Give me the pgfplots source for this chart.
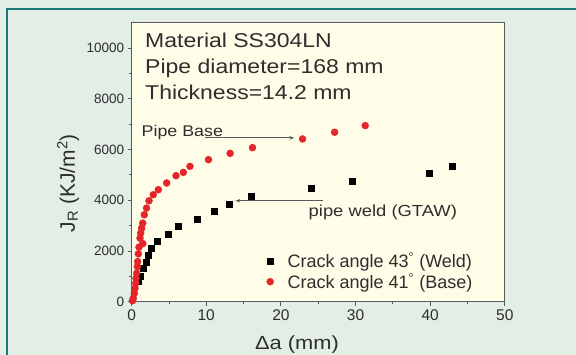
\documentclass[border=0pt]{standalone}
\usepackage{pgfplots}
\pgfplotsset{compat=1.18}
\usepackage{fontspec}
\setmainfont{Liberation Sans}
\newfontfamily\widefont[FakeStretch=1.15]{Liberation Sans}
\usetikzlibrary{arrows.meta}
\definecolor{bgc}{HTML}{E2EEE6}
\definecolor{teal1}{HTML}{1B7A76}
\definecolor{cream}{HTML}{FFFDE8}
\definecolor{txt}{HTML}{2E2E2E}
\definecolor{axc}{HTML}{5A5A5A}
\definecolor{redc}{HTML}{E4262B}
\pgfplotstableread{
x y
0.9 790
1.17 1012
1.53 1320
1.89 1541
2.24 1818
2.69 2110
3.44 2405
4.92 2676
6.3 2964
8.85 3269
11.0 3557
13.05 3850
15.96 4150
24.0 4466
29.6 4769
39.9 5072
43.0 5336
}\weld
\pgfplotstableread{
x y
0.12 40
0.23 134
0.36 332
0.46 530
0.55 727
0.59 925
0.68 1122
0.77 1383
0.81 1581
0.9 1885
0.99 2150
1.5 2290
1.13 2506
1.22 2704
1.35 2901
1.49 3099
1.7 3427
2.0 3692
2.33 3980
2.9 4217
3.58 4415
4.7 4680
5.95 4968
6.93 5099
7.82 5336
10.3 5600
13.2 5850
16.2 6074
22.9 6416
27.2 6680
31.3 6943
}\base
\begin{document}
\begin{tikzpicture}
\useasboundingbox (0,0) rectangle (576bp,355bp);
\fill[bgc] (0,0) rectangle (576bp,355bp);
\draw[teal1, line width=2.5bp] (7bp,0) -- (7bp,346bp) -- (576bp,346bp);
\begin{axis}[
  at={(131.6bp,53.3bp)}, anchor=south west,
  scale only axis, width=373.2bp, height=279bp,
  xmin=0, xmax=50, ymin=0, ymax=11000,
  xtick={0,10,...,50}, ytick={0,2000,...,10000},
  minor xtick={5,15,...,45}, minor ytick={1000,3000,...,9000},
  tick align=outside, xtick pos=bottom, ytick pos=left,
  major tick length=4bp, minor tick length=2.5bp,
  axis line style={axc, line width=0.9bp},
  every tick/.style={axc, line width=0.8bp},
  axis background/.style={fill=cream},
  scaled y ticks=false,
  /pgf/number format/1000 sep={},
  /pgf/number format/assume math mode=true,
  yticklabel style={font=\fontsize{13.5bp}{15bp}\selectfont, text=txt},
  xticklabel style={font=\fontsize{15.5bp}{17bp}\selectfont, text=txt},
  xlabel={Δa (mm)},
  xlabel style={font=\widefont\fontsize{19bp}{22bp}\selectfont, text=txt, at={(axis description cs:0.443,-0.152)}, anchor=center},
  ylabel={J\textsubscript{R} (KJ/m\textsuperscript{2})},
  ylabel style={font=\fontsize{21bp}{24bp}\selectfont, text=txt, at={(axis description cs:-0.17,0.425)}, anchor=center, rotate=0},
  legend style={draw=none, fill=none, inner sep=0pt, at={(axis cs:18.07,1194)}, anchor=west, font=\fontsize{18bp}{21bp}\selectfont, text=txt},
  legend cell align=left,
]
\addplot[only marks, mark=square*, mark size=3bp, black, mark options={fill=black}] table[x=x,y=y] {\weld};
\addlegendentry{\hspace{12bp}Crack angle 43\textsuperscript{°} (Weld)}
\addplot[only marks, mark=*, mark size=3.5bp, redc, mark options={fill=redc, draw=redc}] table[x=x,y=y] {\base};
\addlegendentry{\hspace{12bp}Crack angle 41\textsuperscript{°} (Base)}
\node[anchor=base west, inner sep=0, text=txt, font=\widefont\fontsize{20bp}{24bp}\selectfont] at (axis cs:1.8,10016) {Material SS304LN};
\node[anchor=base west, inner sep=0, text=txt, font=\widefont\fontsize{20bp}{24bp}\selectfont] at (axis cs:1.8,8988) {Pipe diameter=168 mm};
\node[anchor=base west, inner sep=0, text=txt, font=\widefont\fontsize{20bp}{24bp}\selectfont] at (axis cs:1.8,7972) {Thickness=14.2 mm};
\node[anchor=base west, inner sep=0, text=txt, font=\widefont\fontsize{15.5bp}{18bp}\selectfont] at (axis cs:1.33,6530) {Pipe Base};
\node[anchor=base west, inner sep=0, text=txt, font=\widefont\fontsize{16bp}{19bp}\selectfont] at (axis cs:23.7,3360) {pipe weld (GTAW)};
\draw[axc, line width=0.8bp, -{Stealth[length=5bp,width=3.5bp]}] (axis cs:9.8,6460) -- (axis cs:21.8,6460);
\draw[axc, line width=0.8bp, -{Stealth[length=5bp,width=3.5bp]}] (axis cs:25.6,3980) -- (axis cs:13.9,3980);
\end{axis}
\end{tikzpicture}
\end{document}
